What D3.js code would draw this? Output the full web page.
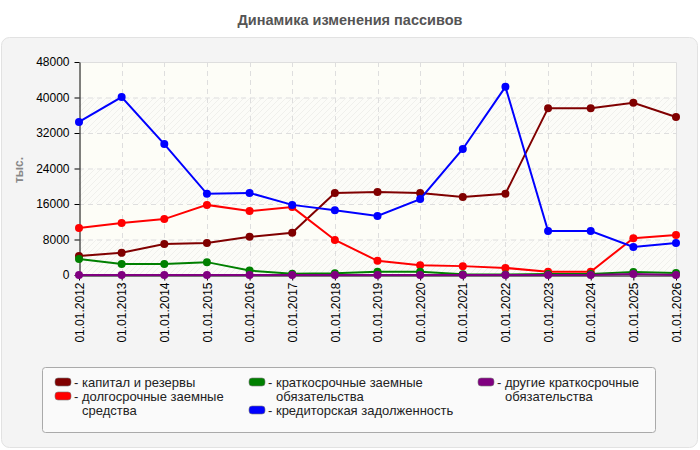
<!DOCTYPE html>
<head>
  <meta charset="utf-8">
  <script src="https://d3js.org/d3.v7.min.js"></script>
  <style>
    body { margin:0; background:#fff; }
    text { font-family: "Liberation Sans", Arial, sans-serif; }
  </style>
</head>
<body>
  <svg width="700" height="450"></svg>
  <script>
    var years = ["01.01.2012","01.01.2013","01.01.2014","01.01.2015","01.01.2016","01.01.2017","01.01.2018","01.01.2019","01.01.2020","01.01.2021","01.01.2022","01.01.2023","01.01.2024","01.01.2025","01.01.2026"];
    var yTicks = [0, 8000, 16000, 24000, 32000, 40000, 48000];

    var kapital     = [4300, 5000, 7000, 7200, 8600, 9500, 18500, 18700, 18500, 17600, 18300, 37600, 37600, 38800, 35600];
    var dolgosroch  = [10600, 11700, 12600, 15800, 14400, 15300, 7900, 3200, 2200, 2000, 1600, 750, 750, 8300, 9000];
    var kratkosroch = [3600, 2500, 2500, 2900, 1000, 300, 400, 750, 750, 150, 100, 200, 200, 700, 450];
    var kreditor    = [34500, 40100, 29500, 18300, 18500, 15800, 14600, 13300, 17100, 28400, 42400, 9900, 9900, 6300, 7200];
    var drugie      = [0, 0, 0, 0, 0, 0, 0, 0, 0, 0, 0, 0, 0, 250, 0];

    var series = [
      {name: "капитал и резервы", lines: ["капитал и резервы"], color: "#800000", values: kapital},
      {name: "долгосрочные заемные средства", lines: ["долгосрочные заемные", "средства"], color: "#ff0000", values: dolgosroch},
      {name: "краткосрочные заемные обязательства", lines: ["краткосрочные заемные", "обязательства"], color: "#008000", values: kratkosroch},
      {name: "кредиторская задолженность", lines: ["кредиторская задолженность"], color: "#0000ff", values: kreditor},
      {name: "другие краткосрочные обязательства", lines: ["другие краткосрочные", "обязательства"], color: "#800080", values: drugie}
    ];

    var svg = d3.select("svg");
    var pLeft = 79, pRight = 676, pTop = 62, pBottom = 275;

    // panel
    svg.append("rect").attr("x", 1.5).attr("y", 37.5).attr("width", 696).attr("height", 410)
      .attr("rx", 8).attr("fill", "#f4f4f4").attr("stroke", "#e2e2e2");

    svg.append("text").attr("x", 350).attr("y", 25).attr("text-anchor", "middle")
      .attr("font-size", 14.5).attr("font-weight", "bold").attr("fill", "#555")
      .text("Динамика изменения пассивов");

    var x = d3.scalePoint().domain(years).range([pLeft, pRight]);
    var y = d3.scaleLinear().domain([0, 48000]).range([pBottom, pTop]);

    var defs = svg.append("defs");
    var pat = defs.append("pattern").attr("id", "hatch").attr("patternUnits", "userSpaceOnUse")
      .attr("width", 6).attr("height", 6);
    pat.append("rect").attr("width", 6).attr("height", 6).attr("fill", "#fcfcf8");
    pat.append("path").attr("d", "M-1,7 L7,-1 M-1,1 L1,-1 M5,7 L7,5").attr("stroke", "#f0f0ec").attr("stroke-width", 1);

    // plot background bands
    svg.append("rect").attr("x", pLeft).attr("y", pTop).attr("width", pRight - pLeft).attr("height", pBottom - pTop)
      .attr("fill", "#fdfdf7");
    for (var i = 0; i < yTicks.length - 1; i++) {
      if (i % 2 == 0) {
        svg.append("rect").attr("x", pLeft).attr("y", y(yTicks[i + 1]))
          .attr("width", pRight - pLeft).attr("height", y(yTicks[i]) - y(yTicks[i + 1]))
          .attr("fill", "url(#hatch)");
      }
    }

    // grid
    var grid = svg.append("g").attr("stroke", "#dedede").attr("stroke-dasharray", "5,4");
    grid.selectAll(".h").data(yTicks.slice(1, -1)).enter().append("line")
      .attr("x1", pLeft).attr("x2", pRight).attr("y1", function(d){ return y(d) + 0.5; }).attr("y2", function(d){ return y(d) + 0.5; });
    grid.selectAll(".v").data(years.slice(1, -1)).enter().append("line")
      .attr("y1", pTop).attr("y2", pBottom).attr("x1", function(d){ return Math.round(x(d)) + 0.5; }).attr("x2", function(d){ return Math.round(x(d)) + 0.5; });
    svg.append("path").attr("d", "M" + pLeft + "," + (pTop + 0.5) + "H" + (pRight + 0.5) + "V" + pBottom)
      .attr("fill", "none").attr("stroke", "#dedede");

    // axes
    var yAxis = svg.append("g").attr("transform", "translate(" + (pLeft + 0.5) + ",0)")
      .call(d3.axisLeft(y).tickValues(yTicks).tickSize(5).tickSizeOuter(0).tickFormat(d3.format("d")));
    yAxis.selectAll("text").attr("font-size", 12).attr("fill", "#000").attr("font-family", "Liberation Sans, Arial, sans-serif").attr("dx", "-2");

    var xAxis = svg.append("g").attr("transform", "translate(0," + (pBottom + 0.5) + ")")
      .call(d3.axisBottom(x).tickSize(5).tickSizeOuter(0));
    xAxis.selectAll("text").attr("font-size", 12).attr("fill", "#000").attr("font-family", "Liberation Sans, Arial, sans-serif")
      .attr("transform", "rotate(-90)").attr("text-anchor", "end").attr("x", -7).attr("y", 0).attr("dy", "0.35em");
    xAxis.select(".domain").attr("stroke", "#000");
    yAxis.select(".domain").attr("stroke", "#000");

    svg.append("text").attr("transform", "translate(23,170) rotate(-90)").attr("text-anchor", "middle")
      .attr("font-size", 12).attr("font-weight", "bold").attr("fill", "#888").text("тыс.");

    // lines
    var line = d3.line().x(function(d, i){ return x(years[i]); }).y(function(d){ return y(d); });
    series.forEach(function(s) {
      var g = svg.append("g");
      g.append("path").attr("d", line(s.values)).attr("fill", "none").attr("stroke", s.color).attr("stroke-width", 2);
      g.selectAll("circle").data(s.values).enter().append("circle")
        .attr("cx", function(d, i){ return x(years[i]); }).attr("cy", function(d){ return y(d); })
        .attr("r", 4).attr("fill", s.color);
    });

    // legend
    svg.append("rect").attr("x", 42.5).attr("y", 367.5).attr("width", 613).attr("height", 65).attr("rx", 3)
      .attr("fill", "#fafafa").attr("stroke", "#aaa");
    var legendPos = [[55, 382], [55, 396], [249, 382], [249, 410], [478, 382]];
    series.forEach(function(s, i) {
      var g = svg.append("g").attr("transform", "translate(" + legendPos[i][0] + "," + legendPos[i][1] + ")");
      g.append("rect").attr("x", 0).attr("y", -4).attr("width", 16).attr("height", 8).attr("rx", 3)
        .attr("fill", s.color).attr("stroke", "#777").attr("stroke-width", 0.6);
      s.lines.forEach(function(t, j) {
        g.append("text").attr("x", j == 0 ? 19 : 27).attr("y", j * 14).attr("dy", "0.35em")
          .attr("font-size", 13).attr("fill", "#222").text(j == 0 ? "- " + t : t);
      });
    });
  </script>
</body>
